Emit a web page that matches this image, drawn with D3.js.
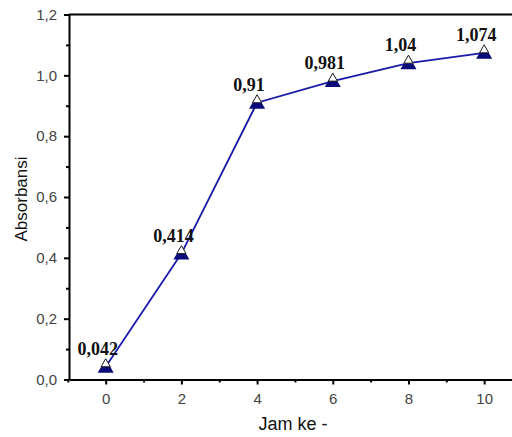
<!DOCTYPE html>
<html>
<head>
<meta charset="utf-8">
<script src="https://cdn.jsdelivr.net/npm/d3@7"></script>
<style>
  body { margin: 0; background: #fff; }
  svg { display: block; }
</style>
</head>
<body>
<div id="chart"></div>
<script>
var jam = [0, 2, 4, 6, 8, 10];
var absorbansi = [0.042, 0.414, 0.91, 0.981, 1.04, 1.074];
var labels = ['0,042', '0,414', '0,91', '0,981', '1,04', '1,074'];
var xTicks = [0, 2, 4, 6, 8, 10];
var yTicks = [0, 0.2, 0.4, 0.6, 0.8, 1.0, 1.2];

var svg = d3.select('#chart')
  .append('svg')
    .attr('width', 512)
    .attr('height', 437);

var x = d3.scaleLinear().domain([-0.97, 11]).range([69, 522]);
var y = d3.scaleLinear().domain([0, 1.2]).range([379.5, 14.5]);

var fmt = function(d) { return d3.format('.1f')(d).replace('.', ','); };

// minor ticks first
svg.append('g')
  .attr('transform', 'translate(0,379.5)')
  .call(d3.axisBottom(x).tickValues([-1, 1, 3, 5, 7, 9, 11]).tickSize(3).tickFormat(''))
  .call(function(g) { g.select('.domain').remove(); })
  .selectAll('line').attr('stroke-width', 2);

svg.append('g')
  .attr('transform', 'translate(69,0)')
  .call(d3.axisLeft(y).tickValues([0.1, 0.3, 0.5, 0.7, 0.9, 1.1]).tickSize(3).tickFormat(''))
  .call(function(g) { g.select('.domain').remove(); })
  .selectAll('line').attr('stroke-width', 2);

var xAxis = svg.append('g')
  .attr('transform', 'translate(0,379.5)')
  .call(d3.axisBottom(x).tickValues(xTicks).tickSize(5).tickSizeOuter(0).tickPadding(9));
xAxis.select('.domain').attr('stroke-width', 2);
xAxis.selectAll('line').attr('stroke-width', 2);
xAxis.selectAll('text')
  .attr('font-family', 'Liberation Sans, Arial, sans-serif')
  .attr('font-size', 15)
  .attr('fill', '#444');

var yAxis = svg.append('g')
  .attr('transform', 'translate(69,0)')
  .call(d3.axisLeft(y).tickValues(yTicks).tickSize(5).tickSizeOuter(0).tickPadding(7).tickFormat(fmt));
yAxis.select('.domain').attr('stroke-width', 2);
yAxis.selectAll('line').attr('stroke-width', 2);
yAxis.selectAll('text')
  .attr('font-family', 'Liberation Sans, Arial, sans-serif')
  .attr('font-size', 15)
  .attr('fill', '#444');

// top frame line
svg.append('line')
  .attr('x1', x(-0.97)).attr('x2', x(11))
  .attr('y1', y(1.2)).attr('y2', y(1.2))
  .attr('stroke', '#000')
  .attr('stroke-width', 2);

// axis titles
svg.append('text')
  .attr('x', 293)
  .attr('y', 430)
  .attr('text-anchor', 'middle')
  .attr('font-family', 'Liberation Sans, Arial, sans-serif')
  .attr('font-size', 18)
  .attr('fill', '#111')
  .text('Jam ke -');

svg.append('text')
  .attr('transform', 'translate(27,199) rotate(-90)')
  .attr('text-anchor', 'middle')
  .attr('font-family', 'Liberation Sans, Arial, sans-serif')
  .attr('font-size', 17)
  .attr('fill', '#111')
  .text('Absorbansi');

var points = jam.map(function(d, i) { return { jam: d, abs: absorbansi[i], label: labels[i] }; });

var line = d3.line()
  .x(function(d) { return x(d.jam); })
  .y(function(d) { return y(d.abs); });

svg.append('path')
  .datum(points)
  .attr('d', line)
  .attr('fill', 'none')
  .attr('stroke', '#1a1aa8')
  .attr('stroke-width', 1.8);

// markers: navy triangle with white upper part
var markers = svg.selectAll('g.marker')
  .data(points)
  .enter()
    .append('g')
      .attr('class', 'marker')
      .attr('transform', function(d) { return 'translate(' + x(d.jam) + ',' + y(d.abs) + ')'; });

markers.append('path')
  .attr('d', 'M0,-8 L8,6 L-8,6 Z')
  .attr('fill', '#0a0a78');

markers.append('path')
  .attr('d', 'M0,-8 L4.6,0 L-4.6,0 Z')
  .attr('fill', '#fff')
  .attr('stroke', '#222')
  .attr('stroke-width', 1);

svg.selectAll('text.vlabel')
  .data(points)
  .enter()
    .append('text')
      .attr('class', 'vlabel')
      .attr('x', function(d) { return x(d.jam) - 8; })
      .attr('y', function(d) { return y(d.abs) - 12; })
      .attr('text-anchor', 'middle')
      .attr('font-family', 'Liberation Serif, Times New Roman, serif')
      .attr('font-weight', 'bold')
      .attr('font-size', 18)
      .attr('fill', '#111')
      .text(function(d) { return d.label; });
</script>
</body>
</html>
